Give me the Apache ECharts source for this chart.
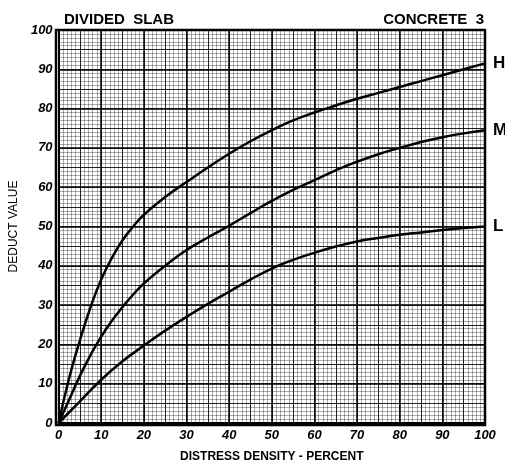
<!DOCTYPE html>
<html>
<head>
<meta charset="utf-8">
<script src="https://cdn.jsdelivr.net/npm/echarts@6/dist/echarts.min.js"></script>
<style>html,body{margin:0;padding:0;background:#fff}#c{width:505px;height:468px}</style>
</head>
<body>
<div id="c"></div>
<script>
const xTicks = [0,10,20,30,40,50,60,70,80,90,100];
const yTicks = [0,10,20,30,40,50,60,70,80,90,100];
const seriesNames = ['H','M','L'];
const hData = [[0,0],[2.5,11.5],[5,21],[7.5,29.5],[10,36.5],[12.5,42],[15,46.5],[17.5,50],[20,53],[25,57.5],[30,61.3],[35,65],[40,68.5],[45,71.7],[50,74.5],[55,77],[60,79],[65,80.8],[70,82.5],[75,84],[80,85.5],[85,87],[90,88.5],[95,90],[100,91.5]];
const mData = [[0,0],[2.5,6],[5,12],[7.5,17.3],[10,22],[12.5,26],[15,29.5],[17.5,32.7],[20,35.5],[25,40],[30,44],[35,47.2],[40,50.2],[45,53.4],[50,56.5],[55,59.3],[60,61.8],[65,64.3],[70,66.5],[75,68.4],[80,70],[85,71.5],[90,72.7],[95,73.7],[100,74.5]];
const lData = [[0,0],[5,5.5],[10,11],[15,15.7],[20,19.7],[25,23.5],[30,27],[35,30.3],[40,33.4],[45,36.5],[50,39.3],[55,41.5],[60,43.3],[65,44.9],[70,46.2],[75,47.1],[80,47.9],[85,48.5],[90,49.1],[95,49.6],[100,50]];

const chart = echarts.init(document.getElementById('c'), null, {renderer:'canvas'});
const FF = 'Liberation Sans, Arial, sans-serif';
const labelFont = {fontFamily:FF, fontStyle:'italic', fontWeight:'bold', fontSize:13, color:'#000'};
function axisBase(extra){
  return Object.assign({type:'value', min:0, max:100}, extra);
}
const option = {
  animation:false,
  backgroundColor:'#fff',
  title:[
    {text:'DIVIDED  SLAB', left:59, top:7, textStyle:{fontFamily:FF, fontWeight:'bold', fontSize:15, color:'#000'}},
    {text:'CONCRETE  3', right:16, top:7, textStyle:{fontFamily:FF, fontWeight:'bold', fontSize:15, color:'#000'}}
  ],
  grid:{left:56, right:20, top:30, bottom:43},
  xAxis:[
    axisBase({interval:10, name:'DISTRESS DENSITY - PERCENT', nameLocation:'middle', nameGap:28,
      nameTextStyle:{fontFamily:FF, fontWeight:'bold', fontSize:12, color:'#000'},
      axisLine:{show:true, lineStyle:{color:'#000', width:2}}, axisTick:{show:false},
      axisLabel:Object.assign({margin:6, formatter:v=>xTicks.includes(v)?String(v):''}, labelFont),
      splitLine:{show:true, lineStyle:{color:'#000', width:1.5}},
      minorTick:{show:false, splitNumber:10},
      minorSplitLine:{show:true, lineStyle:{color:'rgba(0,0,0,0.55)', width:0.6}}}),
    axisBase({interval:5, position:'bottom', axisLine:{show:false}, axisTick:{show:false}, axisLabel:{show:false},
      splitLine:{show:true, lineStyle:{color:'rgba(0,0,0,0.8)', width:1}}})
  ],
  yAxis:[
    axisBase({interval:10, name:'DEDUCT VALUE', nameLocation:'middle', nameGap:36, nameRotate:90,
      nameTextStyle:{fontFamily:FF, fontSize:12, color:'#000'},
      axisLine:{show:true, lineStyle:{color:'#000', width:2}}, axisTick:{show:false},
      axisLabel:Object.assign({margin:6, formatter:v=>yTicks.includes(v)?String(v):''}, labelFont),
      splitLine:{show:true, lineStyle:{color:'#000', width:1.5}},
      minorTick:{show:false, splitNumber:10},
      minorSplitLine:{show:true, lineStyle:{color:'rgba(0,0,0,0.55)', width:0.6}}}),
    axisBase({interval:5, position:'left', axisLine:{show:false}, axisTick:{show:false}, axisLabel:{show:false},
      splitLine:{show:true, lineStyle:{color:'rgba(0,0,0,0.8)', width:1}}})
  ],
  graphic:[{type:'rect', shape:{x:56, y:30, width:429, height:395}, style:{fill:'none', stroke:'#000', lineWidth:2.5}, z:100}],
  series:[hData,mData,lData].map((d,i)=>({
    name:seriesNames[i], type:'line', data:d, smooth:0.5, symbol:'none', z:10,
    lineStyle:{color:'#000', width:2.5},
    endLabel:{show:true, formatter:'{a}', distance:8, fontFamily:FF, fontWeight:'bold', fontSize:17, color:'#000'}
  }))
};
chart.setOption(option);
</script>
</body>
</html>
